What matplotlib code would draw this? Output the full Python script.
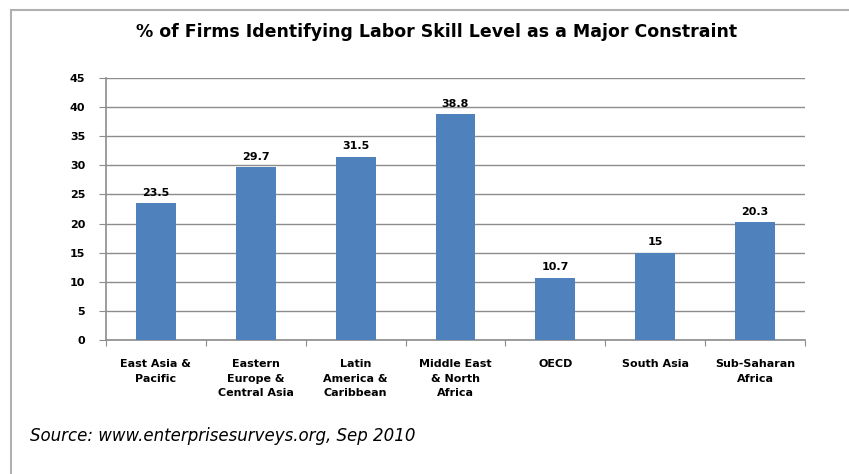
import matplotlib.pyplot as plt
from matplotlib.patches import Rectangle

# data
regions = ['East Asia &\nPacific', 'Eastern\nEurope &\nCentral Asia', 'Latin\nAmerica &\nCaribbean',
           'Middle East\n& North\nAfrica', 'OECD', 'South Asia', 'Sub-Saharan\nAfrica']
values = [23.5, 29.7, 31.5, 38.8, 10.7, 15, 20.3]
value_labels = ['23.5', '29.7', '31.5', '38.8', '10.7', '15', '20.3']
yticks = [0, 5, 10, 15, 20, 25, 30, 35, 40, 45]

W, H = 849, 474
fig = plt.figure(figsize=(W / 100, H / 100), dpi=100)

# chart frame (only left and top visible)
fig.add_artist(Rectangle((11 / W, -0.1), 1.2, (H - 10) / H + 0.1, transform=fig.transFigure,
                         fill=False, edgecolor='#b0b0b0', linewidth=1.5))

ax = fig.add_axes([106 / W, (H - 340) / H, (805 - 106) / W, (340 - 78) / H])
x = range(len(values))
ax.bar(x, values, width=0.4, color='#4f81bd', zorder=3)
for xi, v, lab in zip(x, values, value_labels):
    ax.text(xi, v + 0.9, lab, ha='center', va='bottom', fontsize=8, fontweight='bold')

ax.set_xlim(-0.5, len(values) - 0.5)
ax.set_ylim(0, 45)
ax.set_yticks(yticks)
ax.set_yticklabels([str(t) for t in yticks], fontsize=8, fontweight='bold')
ax.yaxis.grid(True, color='#8c8c8c', linewidth=1)
ax.set_axisbelow(True)

ax.set_xticks([i + 0.5 for i in range(-1, len(values))])
ax.set_xticklabels([])
ax.set_xticks(list(x), minor=True)
ax.set_xticklabels(regions, minor=True, fontsize=8, fontweight='bold', linespacing=1.55, va='top')
ax.tick_params(axis='x', which='minor', length=0, pad=14)
ax.tick_params(axis='x', which='major', length=4, color='#8c8c8c')
ax.tick_params(axis='y', length=5, color='#8c8c8c', pad=10)

for s in ['top', 'right']:
    ax.spines[s].set_visible(False)
for s in ['left', 'bottom']:
    ax.spines[s].set_color('#8c8c8c')
    ax.spines[s].set_linewidth(1.2)

fig.text(437 / W, 1 - 32 / H, '% of Firms Identifying Labor Skill Level as a Major Constraint',
         ha='center', va='center', fontsize=12.5, fontweight='bold')
fig.text(30 / W, 1 - 436 / H, 'Source: www.enterprisesurveys.org, Sep 2010',
         ha='left', va='center', fontsize=12, style='italic')

fig.savefig('out.png', dpi=100)
